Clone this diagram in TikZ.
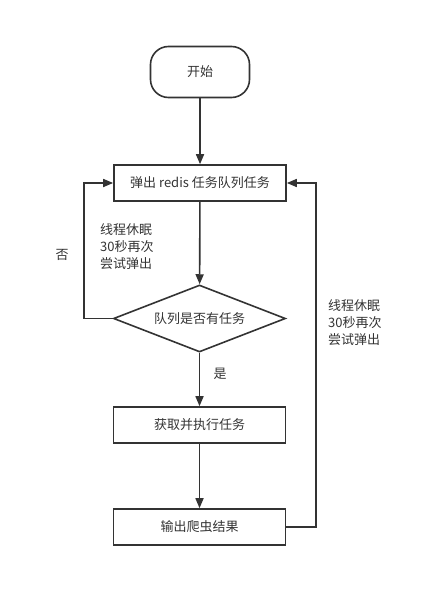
\documentclass[tikz,border=0pt]{standalone}
\usepackage{fontspec}
\setmainfont{Noto Sans CJK SC}
\usetikzlibrary{shapes.geometric,arrows.meta}
\definecolor{ln}{HTML}{333333}
\definecolor{tx}{HTML}{333333}
\begin{document}
\begin{tikzpicture}[x=1pt,y=-1pt,
  every node/.style={font=\fontsize{13}{17}\selectfont, text=tx},
  box/.style={draw=ln, line width=1.6pt, minimum width=172pt, minimum height=36pt, inner sep=0pt},
  term/.style={draw=ln, line width=1.6pt, rounded corners=18pt, minimum width=99pt, minimum height=51pt},
  dec/.style={draw=ln, line width=1.6pt, diamond, aspect=2.6, minimum width=172pt, minimum height=67pt, inner sep=0pt},
  conn/.style={draw=ln, line width=1.6pt, -{Triangle[length=10pt,width=8pt]}},
  lbl/.style={align=left, inner sep=0pt, font=\fontsize{13}{17}\selectfont}
]
\useasboundingbox (0,0) rectangle (445,604);
\node[term] (start) at (200,72) {开始};
\node[box] (pop) at (200,183) {弹出 redis 任务队列任务};
\node[dec] (q) at (199.5,318.5) {队列是否有任务};
\node[box] (exec) at (199.5,425) {获取并执行任务};
\node[box] (out) at (199.5,527) {输出爬虫结果};
\coordinate (l1) at (84,318.5);
\coordinate (l2) at (84,183);
\coordinate (r1) at (316,527);
\coordinate (r2) at (316,183);
\draw[conn] (start) -- (pop);
\draw[conn] (pop) -- (q);
\draw[conn] (q) -- (exec);
\draw[conn] (exec) -- (out);
\draw[conn] (q.west) -- (l1) -- (l2) -- (pop.west);
\draw[conn] (out.east) -- (r1) -- (r2) -- (pop.east);
\node (no) at (62,255) {否};
\node (yes) at (220,374) {是};
\node[lbl, anchor=north west] (lt) at (100,223) {线程休眠\\30秒再次\\尝试弹出};
\node[lbl, anchor=north west] (rt) at (328,299) {线程休眠\\30秒再次\\尝试弹出};
\end{tikzpicture}
\end{document}
